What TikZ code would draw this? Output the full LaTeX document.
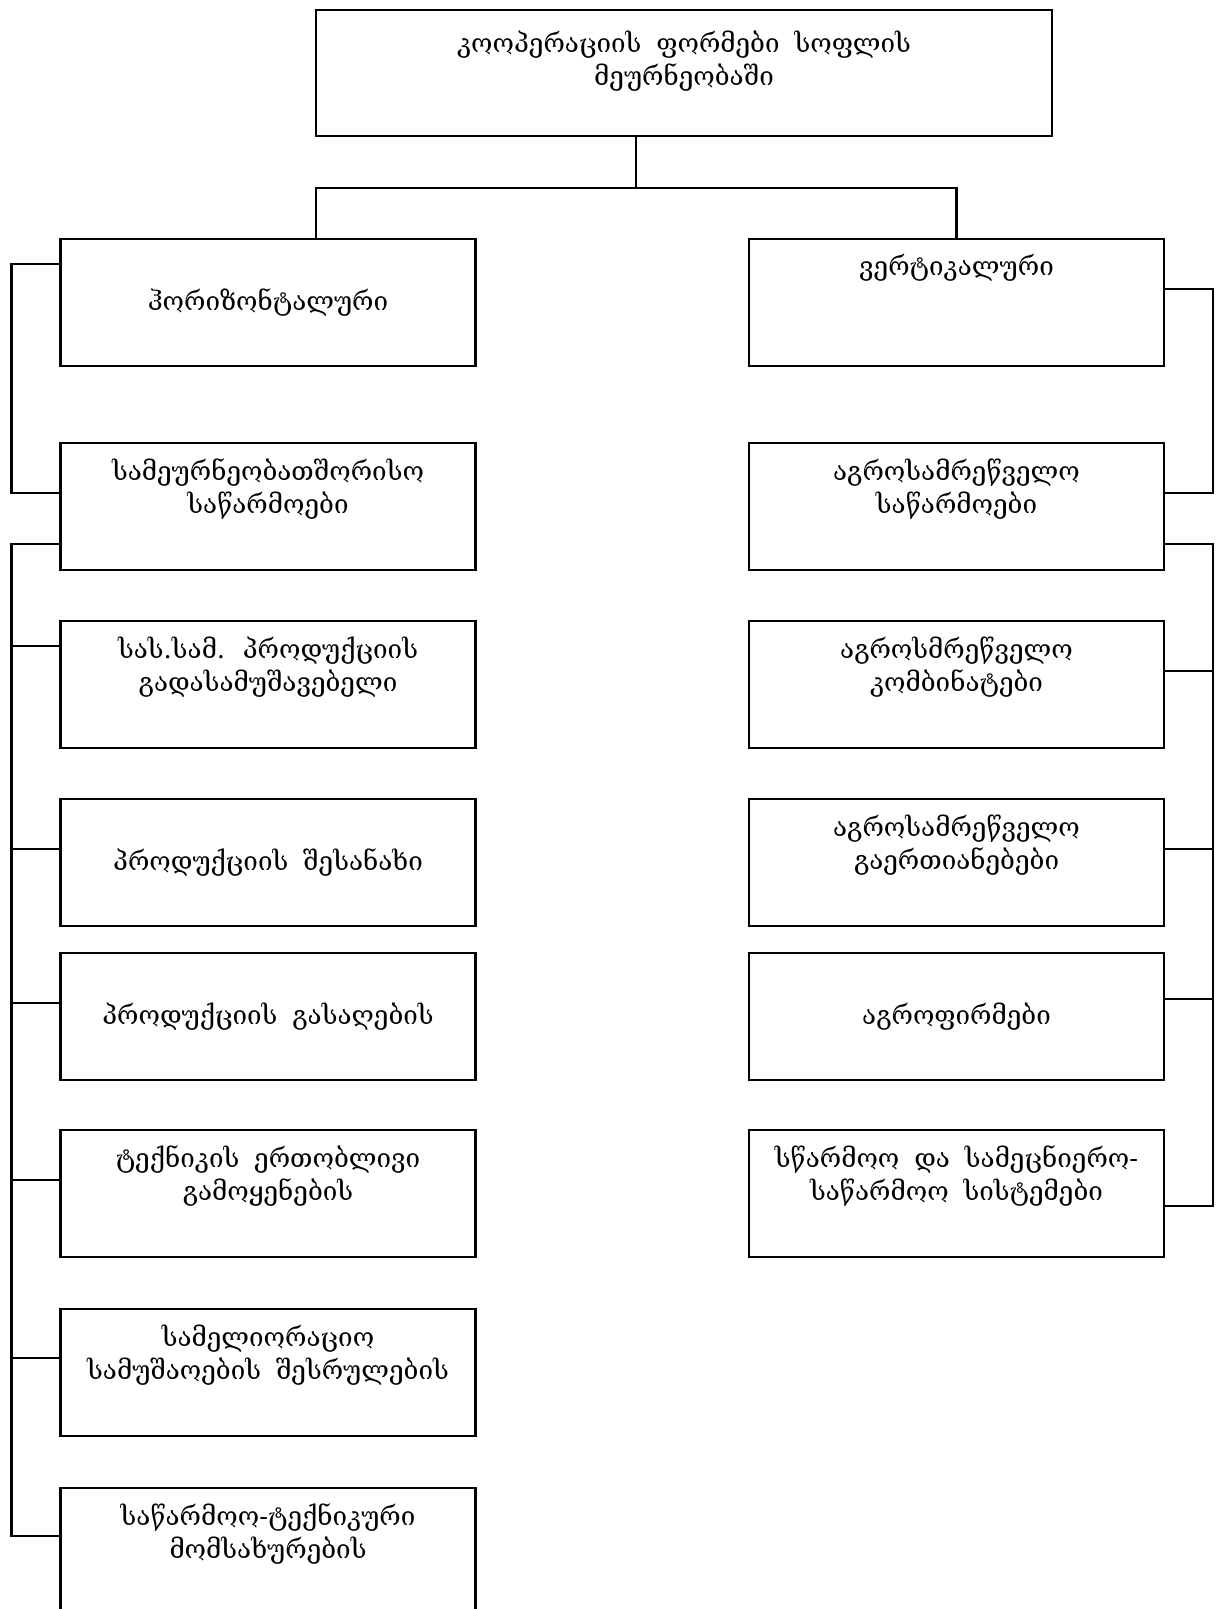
\documentclass[tikz,border=0pt]{standalone}
\usepackage{fontspec}
\setmainfont{DejaVu Serif}[WordSpace=1.8]

\begin{document}
\begin{tikzpicture}[ x = 0.5pt, y = -0.5pt,
                     box/.style={draw=black,line width=1.2pt,inner xsep=2pt,inner ysep=0pt,
                                 minimum width=207.5pt,minimum height=63.5pt,align=center,
                                 font=\fontsize{13}{16.5}\selectfont},
                     uptext/.style={text height=35pt,text depth=28.5pt},
                     link/.style={draw=black,line width=1.2pt},
                   ]
 \useasboundingbox (0,0) rectangle (1215,1609);

 \draw (684,73) node[box,minimum width=368pt,minimum height=63pt,
                     text height=38pt,text depth=25pt] (A)
              {კოოპერაციის ფორმები სოფლის\\მეურნეობაში};

 % left column
 \draw (268,302.5)  node[box] (B) {ჰორიზონტალური};
 \draw (268,506.5)  node[box,uptext] (L1) {სამეურნეობათშორისო\\საწარმოები};
 \draw (268,684.5)  node[box,uptext] (L2) {სას.სამ. პროდუქციის\\გადასამუშავებელი};
 \draw (268,862.5)  node[box] (L3) {პროდუქციის შესანახი};
 \draw (268,1016.5) node[box] (L4) {პროდუქციის გასაღების};
 \draw (268,1193.5) node[box,uptext] (L5) {ტექნიკის ერთობლივი\\გამოყენების};
 \draw (268,1372.5) node[box,uptext] (L6) {სამელიორაციო\\სამუშაოების შესრულების};
 \draw (268,1551.5) node[box,uptext] (L7) {საწარმოო-ტექნიკური\\მომსახურების};

 % right column
 \draw (956.5,302.5)  node[box,text height=18.5pt,text depth=45pt] (C) {ვერტიკალური};
 \draw (956.5,506.5)  node[box,uptext] (R1) {აგროსამრეწველო\\საწარმოები};
 \draw (956.5,684.5)  node[box,uptext] (R2) {აგროსმრეწველო\\კომბინატები};
 \draw (956.5,862.5)  node[box,uptext] (R3) {აგროსამრეწველო\\გაერთიანებები};
 \draw (956.5,1016.5) node[box] (R4) {აგროფირმები};
 \draw (956.5,1193.5) node[box,uptext] (R5) {სწარმოო და სამეცნიერო-\\საწარმოო სისტემები};

 % top fork
 \coordinate (j)  at (636,188);
 \coordinate (jl) at (316,188);
 \coordinate (jr) at (956.5,188);
 \draw[link] (A.south -| j) -- (j);
 \draw[link] (B.north -| jl) -- (jl) -- (jr) -- (C.north);

 % left brackets
 \draw[link] ([yshift=-13pt]B.north west) -- ++(-48,0) |- ([yshift=-25.5pt]L1.north west);
 \draw[link] ([yshift=-51pt]L1.north west) -- ++(-48,0) |- ([yshift=-24.5pt]L7.north west);
 \draw[link] ([yshift=-13pt]L2.north west)   -- ++(-48,0);
 \draw[link] ([yshift=-25.5pt]L3.north west) -- ++(-48,0);
 \draw[link] ([yshift=-25.5pt]L4.north west) -- ++(-48,0);
 \draw[link] ([yshift=-25.5pt]L5.north west) -- ++(-48,0);
 \draw[link] ([yshift=-25pt]L6.north west)   -- ++(-48,0);

 % right brackets
 \draw[link] ([yshift=-25.5pt]C.north east) -- ++(48,0) |- ([yshift=-25.5pt]R1.north east);
 \draw[link] ([yshift=-51pt]R1.north east) -- ++(48,0) |- ([yshift=-38.5pt]R5.north east);
 \draw[link] ([yshift=-25.5pt]R2.north east) -- ++(48,0);
 \draw[link] ([yshift=-25.5pt]R3.north east) -- ++(48,0);
 \draw[link] ([yshift=-23.5pt]R4.north east) -- ++(48,0);

\end{tikzpicture}
\end{document}
